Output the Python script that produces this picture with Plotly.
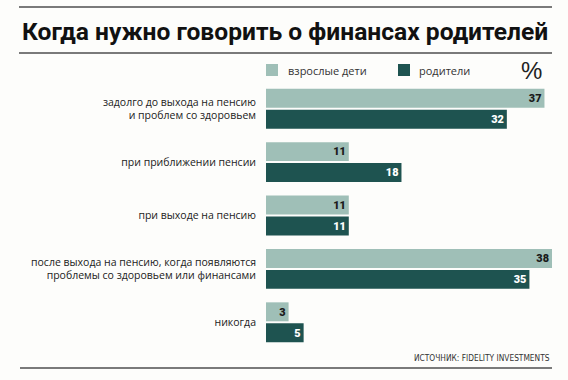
import plotly.graph_objects as go

W, H = 568, 380

categories = [
    "задолго до выхода на пенсию<br>и проблем со здоровьем",
    "при приближении пенсии",
    "при выходе на пенсию",
    "после выхода на пенсию, когда появляются<br>проблемы со здоровьем или финансами",
    "никогда",
]
children = [37, 11, 11, 38, 3]
parents = [32, 18, 11, 35, 5]
series_names = ["взрослые дети", "родители"]

title_text = "Когда нужно говорить о финансах родителей"
source_text = "ИСТОЧНИК: FIDELITY INVESTMENTS"

LIGHT = "#9fbfb7"
DARK = "#1e5350"
BG = "#fdfdfb"

def px(x):
    return x / W

def py(y):
    return 1 - y / H

idx = list(range(len(categories)))

fig = go.Figure()
fig.add_trace(go.Bar(
    y=idx, x=children, orientation="h", name=series_names[0],
    marker=dict(color=LIGHT, line=dict(width=0)),
    text=[str(v) for v in children], textposition="inside",
    insidetextanchor="end", textangle=0,
    textfont=dict(family="Roboto", size=16, color="#1a1a1a", weight=900),
    showlegend=False,
))
fig.add_trace(go.Bar(
    y=idx, x=parents, orientation="h", name=series_names[1],
    marker=dict(color=DARK, line=dict(width=0)),
    text=[str(v) for v in parents], textposition="inside",
    insidetextanchor="end", textangle=0,
    textfont=dict(family="Roboto", size=16, color="#ffffff", weight=900),
    showlegend=False,
))

fig.update_layout(
    width=W, height=H,
    margin=dict(l=0, r=0, t=0, b=0),
    paper_bgcolor=BG, plot_bgcolor=BG,
    barmode="group", bargap=0.215, bargroupgap=0.095,
    xaxis=dict(domain=[px(266), px(552)], range=[0, 38], visible=False, fixedrange=True),
    yaxis=dict(
        domain=[py(349), py(82)], range=[4.5, -0.5],
        tickmode="array", tickvals=idx, ticktext=categories,
        showgrid=False, zeroline=False, showline=False, ticks="",
        ticklabelstandoff=9, automargin=False,
        tickfont=dict(family="Open Sans", size=10.5, color="#222222"),
    ),
    font=dict(family="Open Sans"),
)

shapes = []
for y0, x0 in [(7, 19), (53, 19), (368, 20)]:
    shapes.append(dict(type="line", xref="paper", yref="paper",
                       x0=px(x0), x1=px(552), y0=py(y0), y1=py(y0),
                       line=dict(color="#7a7a7a", width=2)))
# legend swatches
shapes.append(dict(type="rect", xref="paper", yref="paper",
                   x0=px(266), x1=px(278), y0=py(76), y1=py(64),
                   fillcolor=LIGHT, line=dict(width=0)))
shapes.append(dict(type="rect", xref="paper", yref="paper",
                   x0=px(398), x1=px(410), y0=py(76), y1=py(64),
                   fillcolor=DARK, line=dict(width=0)))
fig.update_layout(shapes=shapes)

ann = []
ann.append(dict(text="<b>" + title_text + "</b>", xref="paper", yref="paper",
                x=px(285), y=py(31), xanchor="center", yanchor="middle",
                showarrow=False,
                font=dict(family="Roboto", size=24.6, color="#111111", weight=900)))
ann.append(dict(text=series_names[0], xref="paper", yref="paper",
                x=px(286), y=py(70), xanchor="left", yanchor="middle",
                showarrow=False, font=dict(family="Open Sans", size=11, color="#333333")))
ann.append(dict(text=series_names[1], xref="paper", yref="paper",
                x=px(417), y=py(70), xanchor="left", yanchor="middle",
                showarrow=False, font=dict(family="Open Sans", size=11, color="#333333")))
ann.append(dict(text="%", xref="paper", yref="paper",
                x=px(531), y=py(70), xanchor="center", yanchor="middle",
                showarrow=False, font=dict(family="Liberation Sans", size=24, color="#222222")))
ann.append(dict(text=source_text, xref="paper", yref="paper",
                x=px(552), y=py(358), xanchor="right", yanchor="middle",
                showarrow=False,
                font=dict(family="DejaVu Sans Condensed, Liberation Sans", size=8.3, color="#333333")))
fig.update_layout(annotations=ann)

fig.write_html("out.html", config={"displayModeBar": False},
               post_script="document.body.style.margin='0';")
